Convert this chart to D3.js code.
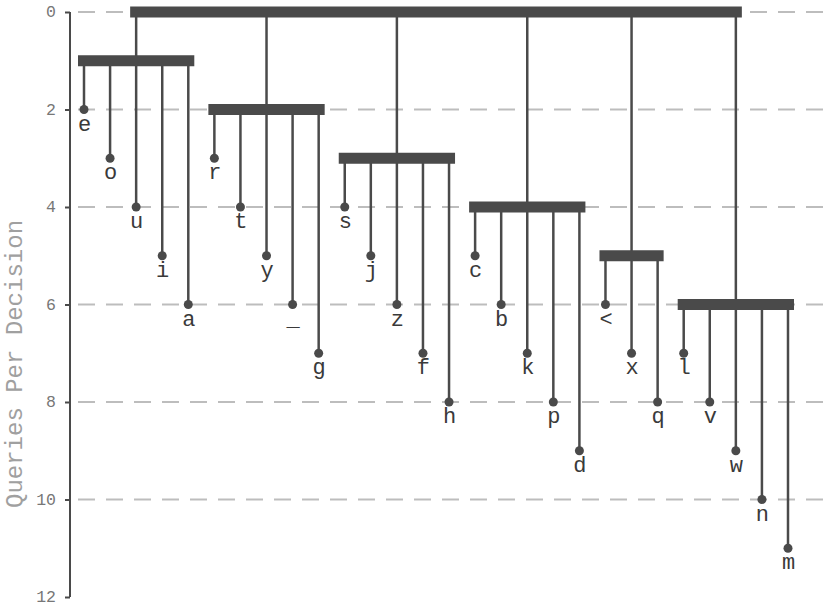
<!DOCTYPE html>
<html>
<head>
<meta charset="utf-8">
<script src="https://cdn.jsdelivr.net/npm/d3@7"></script>
<style>
  body { margin: 0; background: #fff; }
  svg { display: block; }
</style>
</head>
<body>
<svg id="chart" width="829" height="606"></svg>
<script>
// leaves, in left to right order
const leafLabels = ['e', 'o', 'u', 'i', 'a', 'r', 't', 'y', '_', 'g', 's', 'j', 'z', 'f', 'h',
    'c', 'b', 'k', 'p', 'd', '<', 'x', 'q', 'l', 'v', 'w', 'n', 'm'];
const leafDepths = [2, 3, 4, 5, 6, 3, 4, 5, 6, 7, 4, 5, 6, 7, 8,
    5, 6, 7, 8, 9, 6, 7, 8, 7, 8, 9, 10, 11];
// groups hanging from the root
const groupSizes = [5, 5, 5, 5, 3, 5];
const groupDepths = [1, 2, 3, 4, 5, 6];
const rootDepth = 0;
const yTicks = [0, 2, 4, 6, 8, 10, 12];

const font = '"Courier New", "Liberation Mono", monospace';
const dark = '#4a4a4a';
const barH = 11;
const pad = 6;

const svg = d3.select('#chart');

const x = d3.scaleLinear().domain([0, leafLabels.length - 1]).range([84, 788]);
const y = d3.scaleLinear().domain([0, 12]).range([12, 597]);

// grid
svg.append('g')
    .selectAll('line')
    .data(yTicks.filter(d => d < 12))
    .join('line')
    .attr('x1', 78).attr('x2', 829)
    .attr('y1', d => y(d)).attr('y2', d => y(d))
    .attr('stroke', '#bdbdbd')
    .attr('stroke-width', 2)
    .attr('stroke-dasharray', '17,11');

// axis
let axis = svg.append('g')
    .attr('transform', 'translate(70,0)')
    .call(d3.axisLeft(y).tickValues(yTicks).tickSize(5).tickPadding(9));
axis.select('.domain').attr('stroke', dark).attr('stroke-width', 2).attr('d', `M0,${y(0)}V${y(12)}`);
axis.selectAll('.tick line').attr('stroke', dark).attr('stroke-width', 2);
axis.selectAll('.tick text')
    .attr('fill', '#777')
    .attr('dy', '0.3em')
    .style('font-family', font)
    .style('font-size', '16.5px');

svg.append('text')
    .attr('transform', 'translate(22,364) rotate(-90)')
    .attr('text-anchor', 'middle')
    .attr('fill', '#a0a0a0')
    .style('font-family', font)
    .style('font-size', '24px')
    .text('Queries Per Decision');

// build group info from the arrays
let groups = [];
let start = 0;
groupSizes.forEach(function (n, i) {
    let idx = d3.range(start, start + n);
    groups.push({
        depth: groupDepths[i],
        leaves: idx,
        stemX: x(idx[Math.floor(n / 2)])
    });
    start += n;
});

let leaves = leafLabels.map(function (l, i) {
    let g = groups.find(g => g.leaves.includes(i));
    return { label: l, depth: leafDepths[i], x: x(i), parentDepth: g.depth };
});

// stems from root to groups
svg.append('g')
    .selectAll('line')
    .data(groups)
    .join('line')
    .attr('x1', d => d.stemX).attr('x2', d => d.stemX)
    .attr('y1', y(rootDepth)).attr('y2', d => y(d.depth))
    .attr('stroke', dark)
    .attr('stroke-width', 2.5);

// stems from groups to leaves
svg.append('g')
    .selectAll('line')
    .data(leaves)
    .join('line')
    .attr('x1', d => d.x).attr('x2', d => d.x)
    .attr('y1', d => y(d.parentDepth)).attr('y2', d => y(d.depth))
    .attr('stroke', dark)
    .attr('stroke-width', 2.5);

// root bar
let rootX0 = d3.min(groups, g => g.stemX) - pad;
let rootX1 = d3.max(groups, g => g.stemX) + pad;
svg.append('rect')
    .attr('x', rootX0).attr('width', rootX1 - rootX0)
    .attr('y', y(rootDepth) - barH / 2).attr('height', barH)
    .attr('fill', dark);

// group bars
svg.append('g')
    .selectAll('rect')
    .data(groups)
    .join('rect')
    .attr('x', d => x(d.leaves[0]) - pad)
    .attr('width', d => x(d.leaves[d.leaves.length - 1]) - x(d.leaves[0]) + 2 * pad)
    .attr('y', d => y(d.depth) - barH / 2)
    .attr('height', barH)
    .attr('fill', dark);

// leaf dots
svg.append('g')
    .selectAll('circle')
    .data(leaves)
    .join('circle')
    .attr('cx', d => d.x)
    .attr('cy', d => y(d.depth))
    .attr('r', 4.5)
    .attr('fill', dark);

// leaf labels
svg.append('g')
    .selectAll('text')
    .data(leaves)
    .join('text')
    .attr('x', d => d.x + 0.5)
    .attr('y', d => y(d.depth) + 21)
    .attr('text-anchor', 'middle')
    .attr('fill', '#3a3a3a')
    .style('font-family', font)
    .style('font-size', '22px')
    .text(d => d.label);
</script>
</body>
</html>
